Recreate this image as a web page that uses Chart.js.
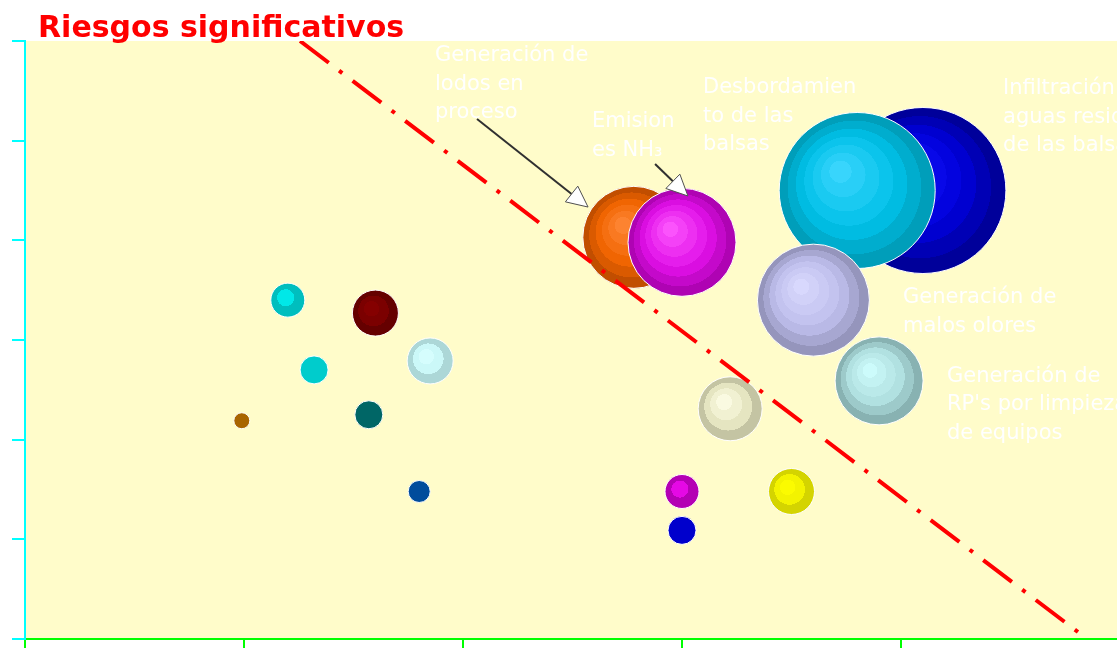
<!DOCTYPE html>
<html>
<head>
<meta charset="utf-8">
<title>Riesgos significativos</title>
<script src="https://cdn.jsdelivr.net/npm/chart.js@4.4.1/dist/chart.umd.min.js"></script>
<style>
  html, body { margin: 0; padding: 0; background: #ffffff; overflow: hidden; }
  #wrap { position: absolute; left: 0; top: 0; width: 1120px; height: 648px; }
</style>
</head>
<body>
<div id="wrap"><canvas id="riskChart" width="1120" height="648"></canvas></div>
<script>
// Risk bubbles: position (probability / severity axes) and bubble radius
const riskX    = [1.20, 1.60, 1.85, 1.32, 0.99, 1.57, 1.80, 3.22, 3.00, 3.00, 3.50, 4.10, 3.80, 2.78, 3.00, 3.60, 3.90];
const riskY    = [3.40, 3.27, 2.79, 2.70, 2.19, 2.25, 1.48, 2.31, 1.48, 1.09, 1.48, 4.50, 4.50, 4.03, 3.98, 3.40, 2.59];
const riskSize = [17,   23,   23,   14,   8,    14,   11,   32,   17,   14,   23,   83,   78,   51,   54,   56,   44];

// Threshold line separating significant risks
const thresholdX = [1.256, 4.808];
const thresholdY = [6.00, 0.07];

// Axis ranges and tick step
const xTicks = [0, 1, 2, 3, 4, 5];
const yTicks = [0, 1, 2, 3, 4, 5, 6];

// Shading for each bubble: highlight, body, rim
const palette = [
  ['#00FFFF', '#00C8C8', '#00ACAC'],
  ['#8A0000', '#780000', '#580000'],
  ['#DAFFFF', '#C8F6F6', '#98C0C0'],
  ['#00CCCC', '#00CCCC', '#00CCCC'],
  ['#A86400', '#A86400', '#A86400'],
  ['#006666', '#006666', '#006666'],
  ['#004C9C', '#004C9C', '#004C9C'],
  ['#FFFFE8', '#E8E8C4', '#B4B494'],
  ['#FF10FF', '#C000C0', '#A000A0'],
  ['#0000CC', '#0000CC', '#0000CC'],
  ['#FFFF00', '#F0F000', '#C0C000'],
  ['#1414FF', '#0000D8', '#00008C'],
  ['#40D8FF', '#00C0E8', '#0096B0'],
  ['#FF8838', '#F06400', '#B44800'],
  ['#FF5CFF', '#E010E8', '#A400A8'],
  ['#DCDCFF', '#BEBEEC', '#8C8CB2'],
  ['#D0FFFF', '#B0E0E0', '#7EA6A6']
];

// Text callouts (left edge, first baseline in axis units)
const callouts = [
  { lines: ['Generación de', 'lodos en', 'proceso'], x: 1.872, y: 5.799 },
  { lines: ['Emision', 'es NH\u2083'], x: 2.589, y: 5.137 },
  { lines: ['Desbordamien', 'to de las', 'balsas'], x: 3.096, y: 5.478 },
  { lines: ['Infiltración de', 'aguas residuales', 'de las balsas'], x: 4.466, y: 5.468 },
  { lines: ['Generación de', 'malos olores'], x: 4.009, y: 3.371 },
  { lines: ['Generación de', "RP's por limpieza", 'de equipos'], x: 4.210, y: 2.579 }
];
const arrows = [
  { from: [2.064, 5.217], to: [2.571, 4.334] },
  { from: [2.877, 4.766], to: [3.027, 4.445] }
];

function hexRgb(h) {
  const n = parseInt(h.slice(1), 16);
  return [(n >> 16) & 255, (n >> 8) & 255, n & 255];
}
function ramp(p, t) {
  const a = hexRgb(t < 0.6 ? p[0] : p[1]);
  const b = hexRgb(t < 0.6 ? p[1] : p[2]);
  const u = t < 0.6 ? t / 0.6 : (t - 0.6) / 0.4;
  const c = a.map((v, k) => Math.round(v + (b[k] - v) * u));
  return 'rgb(' + c.join(',') + ')';
}

function bubbleFill(context) {
  const i = context.dataIndex;
  const p = palette[i];
  const chart = context.chart;
  const xs = chart.scales.x, ys = chart.scales.y;
  if (!xs || !ys) return p[1];
  const cx = xs.getPixelForValue(riskX[i]);
  const cy = ys.getPixelForValue(riskY[i]);
  const r = riskSize[i];
  if (!isFinite(cx) || !isFinite(cy)) return p[1];
  const g = chart.ctx.createRadialGradient(cx - 0.25 * r, cy - 0.28 * r, 0, cx, cy, r);
  const n = Math.max(2, Math.min(7, Math.round(r / 8)));
  for (let k = 0; k < n; k++) {
    const col = ramp(p, (k + 0.5) / n);
    g.addColorStop(k / n, col);
    g.addColorStop(k < n - 1 ? (k + 1) / n - 0.001 : 1, col);
  }
  return g;
}

const bubbles = riskX.map((x, i) => ({ x: x, y: riskY[i], r: riskSize[i] }));
const threshold = thresholdX.map((x, i) => ({ x: x, y: thresholdY[i] }));

const decor = {
  id: 'decor',
  beforeDraw(chart) {
    const a = chart.chartArea, ctx = chart.ctx;
    ctx.save();
    ctx.fillStyle = '#FFFCCA';
    ctx.fillRect(a.left, a.top, a.right - a.left, a.bottom - a.top);
    ctx.restore();
  },
  afterDatasetsDraw(chart) {
    const ctx = chart.ctx, xs = chart.scales.x, ys = chart.scales.y;
    ctx.save();
    // callout arrows
    arrows.forEach(ar => {
      const x0 = xs.getPixelForValue(ar.from[0]), y0 = ys.getPixelForValue(ar.from[1]);
      const x1 = xs.getPixelForValue(ar.to[0]), y1 = ys.getPixelForValue(ar.to[1]);
      const len = Math.hypot(x1 - x0, y1 - y0);
      const dx = (x1 - x0) / len, dy = (y1 - y0) / len;
      const bx = x1 - dx * 21, by = y1 - dy * 21;
      ctx.strokeStyle = '#303030';
      ctx.lineWidth = 2;
      ctx.beginPath();
      ctx.moveTo(x0, y0);
      ctx.lineTo(bx, by);
      ctx.stroke();
      ctx.beginPath();
      ctx.moveTo(x1, y1);
      ctx.lineTo(bx - dy * 10, by + dx * 10);
      ctx.lineTo(bx + dy * 10, by - dx * 10);
      ctx.closePath();
      ctx.fillStyle = '#FFFFFF';
      ctx.fill();
      ctx.lineWidth = 1;
      ctx.strokeStyle = '#505050';
      ctx.stroke();
    });
    // callout texts
    ctx.fillStyle = '#FFFFFF';
    ctx.font = '21px "DejaVu Sans"';
    ctx.textBaseline = 'alphabetic';
    ctx.textAlign = 'left';
    callouts.forEach(c => {
      const x = xs.getPixelForValue(c.x), y = ys.getPixelForValue(c.y);
      c.lines.forEach((t, k) => ctx.fillText(t, x, y + k * 28.5));
    });
    ctx.restore();
  },
  afterDraw(chart) {
    const ctx = chart.ctx;
    ctx.save();
    ctx.fillStyle = '#FF0000';
    ctx.font = 'bold 30px "DejaVu Sans"';
    ctx.textBaseline = 'alphabetic';
    ctx.textAlign = 'left';
    ctx.fillText('Riesgos significativos', 38, 37);
    ctx.restore();
  }
};

new Chart(document.getElementById('riskChart'), {
  data: {
    datasets: [
      {
        type: 'line',
        data: threshold,
        borderColor: '#FF0000',
        borderWidth: 4,
        borderDash: [36, 13, 4, 13],
        borderCapStyle: 'butt',
        pointRadius: 0,
        fill: false,
        order: 0
      },
      {
        type: 'bubble',
        data: bubbles,
        backgroundColor: bubbleFill,
        borderColor: '#FFFFFF',
        borderWidth: 1,
        order: 1
      }
    ]
  },
  options: {
    responsive: false,
    devicePixelRatio: 1,
    animation: false,
    events: [],
    layout: { autoPadding: false, padding: { top: 41, left: 0, right: 0, bottom: 0 } },
    plugins: { legend: { display: false }, tooltip: { enabled: false }, title: { display: false } },
    scales: {
      x: {
        type: 'linear',
        min: xTicks[0],
        max: xTicks[xTicks.length - 1],
        ticks: { display: false, stepSize: 1 },
        grid: { drawOnChartArea: false, drawTicks: true, tickLength: 9, color: '#00FF00', lineWidth: 2 },
        border: { display: true, color: '#00FF00', width: 2 },
        afterFit(s) { s.height = 9; }
      },
      y: {
        type: 'linear',
        min: yTicks[0],
        max: yTicks[yTicks.length - 1],
        ticks: { display: false, stepSize: 1 },
        grid: { drawOnChartArea: false, drawTicks: true, tickLength: 13, color: '#00FFFF', lineWidth: 2 },
        border: { display: true, color: '#00FFFF', width: 2 },
        afterFit(s) { s.width = 25; }
      }
    }
  },
  plugins: [decor]
});
</script>
</body>
</html>
